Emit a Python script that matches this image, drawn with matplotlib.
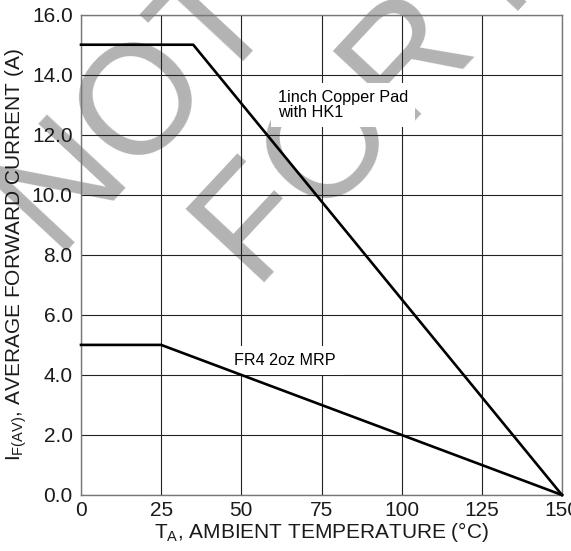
import matplotlib
matplotlib.use('Agg')
import matplotlib.pyplot as plt

plt.rcParams['font.family'] = ['Liberation Sans', 'DejaVu Sans']
plt.rcParams['mathtext.default'] = 'regular'

# derating curves
temp_pad = [0, 35, 150]
curr_pad = [15.0, 15.0, 0.0]
temp_fr4 = [0, 25, 150]
curr_fr4 = [5.0, 5.0, 0.0]

xticks = [0, 25, 50, 75, 100, 125, 150]
yticks = [0.0, 2.0, 4.0, 6.0, 8.0, 10.0, 12.0, 14.0, 16.0]
pad_label = '1inch Copper Pad\nwith HK1'
fr4_label = 'FR4 2oz MRP'

W, H = 571, 551
fig = plt.figure(figsize=(W / 100, H / 100), dpi=100)
ax = fig.add_axes([81/W, 56/H, 481/W, 480.3/H])
ax.patch.set_alpha(0)

# watermark sits under the grid; anchored at the text baseline start (pixels)
wm = '#b3b3b3'
for txt, (px, py) in [('NOT', (54, 252)), ('FOR NEW DESIGN', (257, 292))]:
    fig.text(px / W, 1 - py / H, txt, fontsize=112, color=wm, rotation=47,
             ha='left', va='baseline', rotation_mode='anchor', zorder=-1)

ax.plot(temp_pad, curr_pad, color='black', lw=1.9, zorder=3, clip_on=False)
ax.plot(temp_fr4, curr_fr4, color='black', lw=1.9, zorder=3, clip_on=False)

ax.text(61.5, 13.5, pad_label, fontsize=11.7, va='top', ha='left', linespacing=1.0,
        bbox=dict(facecolor='white', edgecolor='none', pad=5), zorder=2.5)
ax.text(47.8, 4.47, fr4_label, fontsize=11.6, va='center', ha='left',
        bbox=dict(facecolor='white', edgecolor='none', pad=5), zorder=2.5)

ax.set_xlim(0, 150)
ax.set_ylim(0, 16)
ax.set_xticks(xticks)
ax.set_xticklabels([str(t) for t in xticks])
ax.set_yticks(yticks)
ax.set_yticklabels(['%.1f' % t for t in yticks])
ax.grid(True, color='#222222', lw=0.8)
ax.set_axisbelow(True)
ax.tick_params(length=0, labelsize=15, colors='#1a1a1a')
ax.tick_params(axis='x', pad=4)
ax.tick_params(axis='y', pad=6)
for s in ax.spines.values():
    s.set_color('#777777')
    s.set_linewidth(1.0)

ax.set_xlabel('T$_{A}$, AMBIENT TEMPERATURE (°C)', fontsize=15, labelpad=0, color='#1a1a1a')
ax.set_ylabel('I$_{F(AV)}$, AVERAGE FORWARD CURRENT (A)', fontsize=15, labelpad=2,
              color='#1a1a1a')

fig.savefig('out.png', dpi=100)
